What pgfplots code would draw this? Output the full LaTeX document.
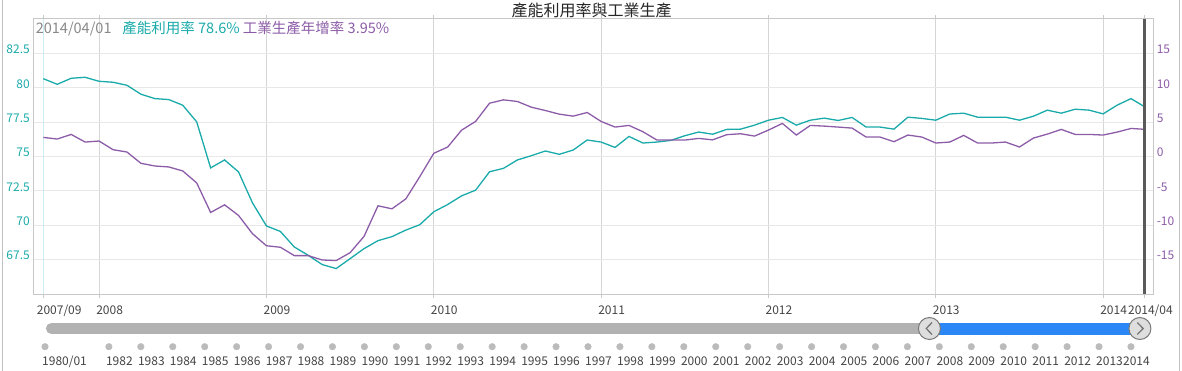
\documentclass[border=0pt]{standalone}
\usepackage{fontspec}
\setmainfont{Noto Sans CJK TC}
\usepackage{pgfplots}
\pgfplotsset{compat=1.18}
\usepackage{pgfplotstable}

\definecolor{cuT}{RGB}{26,170,170}
\definecolor{ipP}{RGB}{140,92,168}
\definecolor{hgrid}{RGB}{232,232,232}
\definecolor{vgrid}{RGB}{214,214,214}
\definecolor{bord}{RGB}{200,200,200}
\definecolor{lblue}{RGB}{205,235,245}
\definecolor{cursor}{RGB}{90,90,90}
\definecolor{labgray}{RGB}{68,68,68}
\definecolor{leggray}{RGB}{136,136,136}
\definecolor{slgray}{RGB}{178,178,178}
\definecolor{slblue}{RGB}{43,135,245}
\definecolor{hfill}{RGB}{222,222,222}
\definecolor{hdraw}{RGB}{120,120,120}
\definecolor{dotgray}{RGB}{187,187,187}
\definecolor{framec}{RGB}{192,192,192}

\pgfdeclareplotmark{chevleft}{%
  \pgfpathmoveto{\pgfpoint{2.6pt}{6pt}}%
  \pgfpathlineto{\pgfpoint{-3.2pt}{0pt}}%
  \pgfpathlineto{\pgfpoint{2.6pt}{-6pt}}%
  \pgfusepathqstroke}
\pgfdeclareplotmark{chevright}{%
  \pgfpathmoveto{\pgfpoint{-2.6pt}{6pt}}%
  \pgfpathlineto{\pgfpoint{3.2pt}{0pt}}%
  \pgfpathlineto{\pgfpoint{-2.6pt}{-6pt}}%
  \pgfusepathqstroke}

% k = months since 2007/09 ; cu = capacity utilisation (%) ; ip = industrial production yoy (%)
\pgfplotstableread{
k cu ip
0 80.66 2.78
1 80.25 2.54
2 80.69 3.21
3 80.76 2.10
4 80.47 2.25
5 80.40 0.99
6 80.18 0.65
7 79.53 -0.99
8 79.21 -1.38
9 79.14 -1.52
10 78.73 -2.10
11 77.52 -3.84
12 74.17 -8.14
13 74.75 -7.03
14 73.88 -8.57
15 71.63 -11.23
16 69.95 -12.98
17 69.55 -13.20
18 68.42 -14.42
19 67.81 -14.42
20 67.14 -15.05
21 66.85 -15.14
22 67.57 -13.99
23 68.30 -11.62
24 68.88 -7.17
25 69.17 -7.61
26 69.65 -6.16
27 70.04 -2.92
28 70.98 0.46
29 71.51 1.38
30 72.14 3.84
31 72.55 5.10
32 73.89 7.75
33 74.14 8.24
34 74.75 8.00
35 75.06 7.17
36 75.40 6.69
37 75.16 6.16
38 75.47 5.87
39 76.20 6.40
40 76.05 5.10
41 75.66 4.28
42 76.46 4.52
43 75.98 3.60
44 76.05 2.39
45 76.17 2.39
46 76.51 2.39
47 76.78 2.63
48 76.62 2.42
49 76.97 3.17
50 76.99 3.31
51 77.28 2.97
52 77.64 3.84
53 77.84 4.81
54 77.28 3.12
55 77.64 4.52
56 77.79 4.42
57 77.62 4.28
58 77.84 4.13
59 77.14 2.83
60 77.14 2.83
61 76.99 2.15
62 77.86 3.12
63 77.77 2.83
64 77.64 1.96
65 78.09 2.10
66 78.15 3.07
67 77.86 1.96
68 77.86 1.96
69 77.86 2.10
70 77.64 1.38
71 77.93 2.68
72 78.37 3.26
73 78.15 3.94
74 78.44 3.21
75 78.37 3.21
76 78.10 3.12
77 78.73 3.55
78 79.21 4.08
79 78.60 3.95
}\datatab

\pgfplotstableread{
x y
0 0
2 0
3 0
4 0
5 0
6 0
7 0
8 0
9 0
10 0
11 0
12 0
13 0
14 0
15 0
16 0
17 0
18 0
19 0
20 0
21 0
22 0
23 0
24 0
25 0
26 0
27 0
28 0
29 0
30 0
31 0
32 0
33 0
34 0
}\dotstab

\begin{document}
\begin{tikzpicture}
\path[use as bounding box] (0pt,0pt) rectangle (1182pt,-371pt);
\draw[framec, line width=1pt] (2.5pt,0pt) -- (2.5pt,-371pt);
\draw[framec, line width=1pt] (1179.5pt,0pt) -- (1179.5pt,-371pt);
\node[font=\fontsize{16}{18}\selectfont, text=black!85] at (591.5pt,-10pt) {產能利用率與工業生產};

% ---------- main chart, left axis ----------
\begin{axis}[
  at={(33.3pt,-294pt)}, anchor=south west,
  scale only axis, width=1120pt, height=275pt,
  xmin=-0.717, xmax=79.595, ymin=65, ymax=85,
  axis line style={bord, line width=1pt},
  xtick={4,16,28,40,52,64,76},
  xticklabels={2008,2009,2010,2011,2012,2013,2014},
  extra x ticks={0,79}, extra x tick labels={}, extra x tick style={grid=none},
  ytick={67.5,70,72.5,75,77.5,80,82.5},
  xmajorgrids, ymajorgrids,
  x grid style={vgrid, line width=1pt},
  y grid style={hgrid, line width=1pt},
  xtick align=outside, major tick length=4pt,
  xtick style={bord, line width=1pt},
  ytick style={draw=none},
  /pgf/number format/assume math mode=true,
  ticklabel style={font=\fontsize{12}{14}\selectfont},
  xticklabel style={text=labgray, anchor=base west, inner sep=0pt, xshift=-3pt, yshift=-16.5pt},
  yticklabel style={text=cuT, yshift=4pt},
  clip=false,
]
\draw[lblue, line width=1pt] (axis cs:0,65) -- (axis cs:0,85);
\addplot[cuT, line width=1.3pt] table[x=k, y=cu] {\datatab};
\node[anchor=base west, inner sep=0pt, text=labgray, font=\fontsize{12}{14}\selectfont, xshift=-6.6pt, yshift=-20.5pt] at (axis cs:0,65) {2007/09};
\node[anchor=base east, inner sep=0pt, text=labgray, font=\fontsize{12}{14}\selectfont, xshift=28pt, yshift=-20.5pt] at (axis cs:79,65) {2014/04};
\node[anchor=west, inner sep=0pt, font=\fontsize{14.5}{16}\selectfont] at (axis cs:-0.55,84.3) {{\color{leggray}2014/04/01}\hspace{0.75em}{\color{cuT}產能利用率 78.6\%} {\color{ipP}工業生產年增率 3.95\%}};
\end{axis}

% ---------- main chart, right axis ----------
\begin{axis}[
  at={(33.3pt,-294pt)}, anchor=south west,
  scale only axis, width=1120pt, height=275pt,
  xmin=-0.717, xmax=79.595, ymin=-20, ymax=20,
  hide x axis,
  axis y line*=right,
  axis line style={bord, line width=1pt},
  ytick={-15,-10,-5,0,5,10,15},
  ytick style={draw=none},
  /pgf/number format/assume math mode=true,
  ticklabel style={font=\fontsize{12}{14}\selectfont},
  yticklabel style={text=ipP, yshift=4pt},
  clip=false,
]
\addplot[ipP, line width=1.3pt] table[x=k, y=ip] {\datatab};
\draw[cursor, line width=3pt] (axis cs:79,-20) -- (axis cs:79,20);
\end{axis}

% ---------- range slider ----------
\begin{axis}[
  anchor=origin, at={(45pt,-328.5pt)},
  x=31.94pt, y=1pt,
  xmin=-0.5, xmax=35, ymin=-18.2, ymax=12,
  axis y line=none,
  axis x line*=bottom,
  axis line style={draw=none},
  xtick={0,2,3,...,34},
  xticklabels={1980/01,1982,1983,1984,1985,1986,1987,1988,1989,1990,1991,1992,1993,1994,1995,1996,1997,1998,1999,2000,2001,2002,2003,2004,2005,2006,2007,2008,2009,2010,2011,2012,2013,\hspace*{-5pt}2014},
  xtick style={draw=none},
  xticklabel style={font=\fontsize{12}{14}\selectfont, text=labgray, anchor=base west, inner sep=0pt, xshift=-3pt, yshift=-18.7pt},
  clip=false,
]
\addplot[slgray, line width=11pt, line cap=round] coordinates {(0.2,0) (27.69,0)};
\addplot[slblue, line width=11.5pt] coordinates {(27.69,-0.3) (34.28,-0.3)};
\addplot[hdraw, only marks, mark=*, mark size=11pt, mark options={fill=hfill, draw=hdraw, line width=1pt}] coordinates {(27.69,0) (34.28,0)};
\addplot[hdraw, only marks, mark=chevleft, mark options={draw=hdraw, line width=1.3pt}] coordinates {(27.69,0)};
\addplot[hdraw, only marks, mark=chevright, mark options={draw=hdraw, line width=1.3pt}] coordinates {(34.28,0)};
\addplot[dotgray, only marks, mark=*, mark size=3.3pt, mark options={fill=dotgray, draw=dotgray}] table[x expr=\thisrow{x}, y expr=-18.2] {\dotstab};
\end{axis}
\end{tikzpicture}
\end{document}
